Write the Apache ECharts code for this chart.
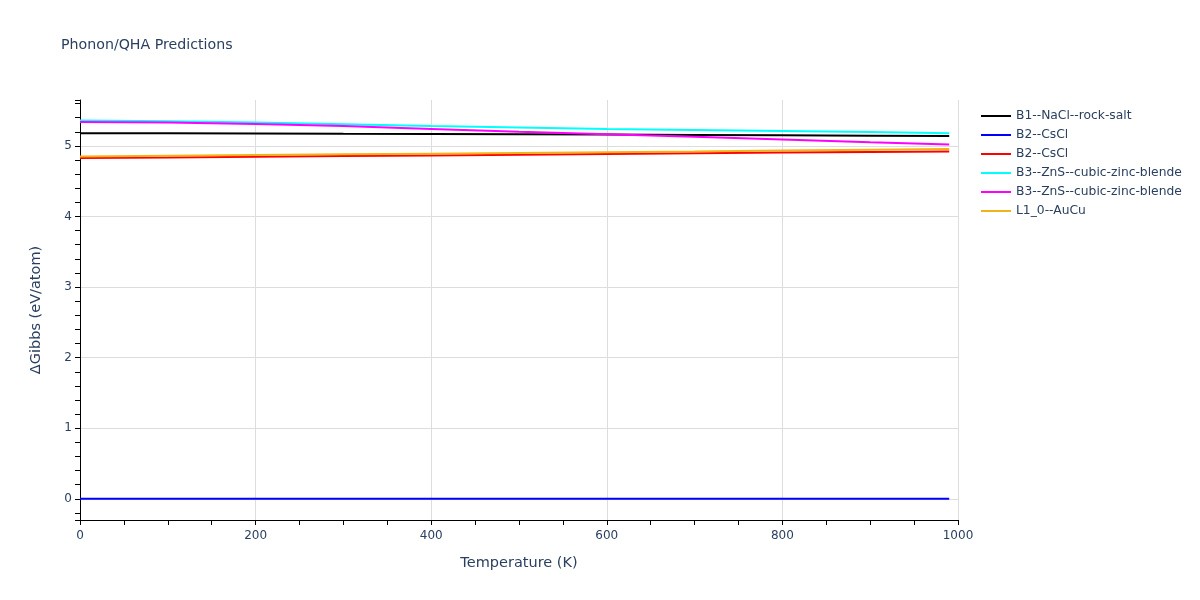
<!DOCTYPE html>
<html>
<head>
<meta charset="utf-8">
<script src="https://cdn.jsdelivr.net/npm/echarts@6/dist/echarts.min.js"></script>
<style>html,body{margin:0;padding:0;background:#fff}#c{width:1200px;height:600px}</style>
</head>
<body>
<div id="c"></div>
<script>
const temperatures = [0, 100, 200, 300, 400, 500, 600, 700, 800, 900, 990];
const seriesNames = ["B1--NaCl--rock-salt", "B2--CsCl", "B2--CsCl", "B3--ZnS--cubic-zinc-blende", "B3--ZnS--cubic-zinc-blende", "L1_0--AuCu"];
const b1NaCl = [5.18, 5.178, 5.175, 5.172, 5.17, 5.165, 5.16, 5.155, 5.15, 5.145, 5.14];
const b2CsClA = [0, 0, 0, 0, 0, 0, 0, 0, 0, 0, 0];
const b2CsClB = [4.83, 4.835, 4.845, 4.855, 4.865, 4.875, 4.885, 4.895, 4.905, 4.913, 4.92];
const b3ZnSA = [5.36, 5.35, 5.33, 5.305, 5.28, 5.26, 5.24, 5.225, 5.21, 5.195, 5.18];
const b3ZnSB = [5.34, 5.33, 5.31, 5.28, 5.24, 5.2, 5.165, 5.13, 5.09, 5.05, 5.02];
const l10AuCu = [4.85, 4.86, 4.87, 4.88, 4.89, 4.9, 4.91, 4.92, 4.933, 4.945, 4.955];
const colors = ["#000000", "#0000ff", "#ff0000", "#00ffff", "#ff00ff", "#f0b418"];
const allValues = [b1NaCl, b2CsClA, b2CsClB, b3ZnSA, b3ZnSB, l10AuCu];

const font = '"DejaVu Sans", Verdana, sans-serif';
const txt = '#2a3f5f';
const chart = echarts.init(document.getElementById('c'), null, {renderer: 'canvas'});
const series = allValues.map((vals, i) => ({
  name: seriesNames[i] + (i === 2 || i === 4 ? '\u200b' : ''),
  type: 'line',
  data: temperatures.map((t, j) => [t, vals[j]]),
  showSymbol: false,
  symbol: 'none',
  lineStyle: {color: colors[i], width: 2},
  itemStyle: {color: colors[i]},
  animation: false
}));
chart.setOption({
  animation: false,
  title: {text: 'Phonon/QHA Predictions', left: 61, top: 38, padding: 0,
    textStyle: {fontFamily: font, fontSize: 14.2, fontWeight: 'normal', color: txt}},
  grid: {left: 80, right: 242, top: 100, bottom: 80, containLabel: false},
  legend: {orient: 'vertical', left: 976, top: 104, icon: 'rect', itemWidth: 30, itemHeight: 2,
    itemGap: 5, textStyle: {fontFamily: font, fontSize: 12.3, color: txt, lineHeight: 14},
    data: series.map(s => s.name)},
  xAxis: {type: 'value', min: 0, max: 1000, interval: 200,
    name: 'Temperature (K)', nameLocation: 'middle', nameGap: 36,
    nameTextStyle: {fontFamily: font, fontSize: 14.5, color: txt},
    axisLine: {show: true, onZero: false, lineStyle: {color: '#000', width: 1}},
    axisTick: {show: true, length: 5, lineStyle: {color: '#000'}},
    minorTick: {show: true, splitNumber: 4, length: 5, lineStyle: {color: '#000'}},
    axisLabel: {fontFamily: font, fontSize: 12, color: txt, margin: 10, formatter: v => String(v)},
    splitLine: {show: true, lineStyle: {color: '#dddddd', width: 1}}},
  yAxis: {type: 'value', min: -0.3, max: 5.65, minInterval: 1, maxInterval: 1,
    name: 'ΔGibbs (eV/atom)', nameLocation: 'middle', nameGap: 36,
    nameTextStyle: {fontFamily: font, fontSize: 14.5, color: txt},
    axisLine: {show: true, onZero: false, lineStyle: {color: '#000', width: 1}},
    axisTick: {show: true, length: 5, lineStyle: {color: '#000'}},
    minorTick: {show: true, splitNumber: 5, length: 5, lineStyle: {color: '#000'}},
    axisLabel: {fontFamily: font, fontSize: 12, color: txt, margin: 8, showMinLabel: false, showMaxLabel: false},
    splitLine: {show: true, showMinLine: false, showMaxLine: false, lineStyle: {color: '#dddddd', width: 1}}},
  series: series
});
</script>
</body>
</html>
